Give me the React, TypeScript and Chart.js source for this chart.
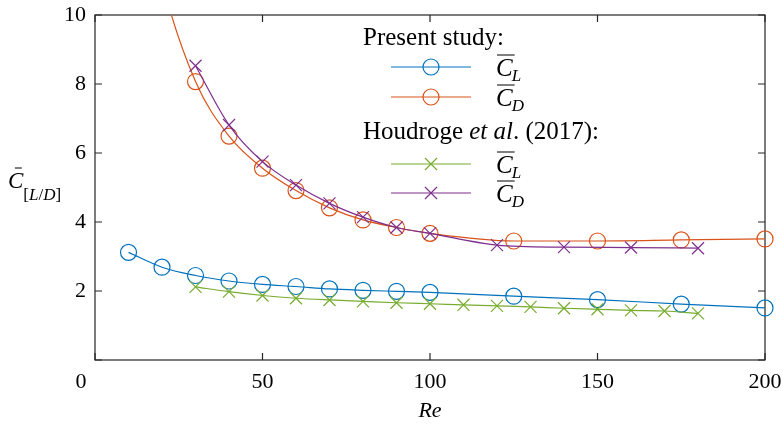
import { useEffect, useRef } from 'react';
import { Chart, registerables } from 'chart.js';

Chart.register(...registerables);

// Reynolds numbers and mean force coefficients
const presentRe = [10, 20, 30, 40, 50, 60, 70, 80, 90, 100, 125, 150, 175, 200];
const presentCL = [3.12, 2.69, 2.45, 2.29, 2.19, 2.13, 2.06, 2.02, 1.99, 1.96, 1.85, 1.75, 1.62, 1.51];
const presentCD = [16.0, 11.0, 8.07, 6.49, 5.56, 4.91, 4.41, 4.06, 3.84, 3.67, 3.45, 3.45, 3.48, 3.51];

const houdrogeReCL = [30, 40, 50, 60, 70, 80, 90, 100, 110, 120, 130, 140, 150, 160, 170, 180];
const houdrogeCL = [2.12, 1.98, 1.87, 1.79, 1.74, 1.7, 1.66, 1.63, 1.6, 1.57, 1.54, 1.5, 1.47, 1.44, 1.42, 1.35];
const houdrogeReCD = [30, 40, 50, 60, 70, 80, 90, 100, 120, 140, 160, 180];
const houdrogeCD = [8.53, 6.81, 5.75, 5.07, 4.54, 4.14, 3.84, 3.67, 3.33, 3.27, 3.26, 3.24];

const xTicks = [0, 50, 100, 150, 200];
const yTicks = [0, 2, 4, 6, 8, 10];

const legendGroups = ['Present study:', 'Houdroge|et al|. (2017):'];

const SERIF = "'Liberation Serif', 'Times New Roman', serif";
const BLUE = '#0072BD';
const ORANGE = '#D95319';
const GREEN = '#77AC30';
const PURPLE = '#7E2F8E';
const AXIS = '#262626';

const toPoints = (xs: number[], ys: number[]) => xs.map((x, i) => ({ x, y: ys[i] }));

function series(label: string, xs: number[], ys: number[], color: string, marker: string, order: number) {
  return {
    label,
    data: toPoints(xs, ys),
    borderColor: color,
    backgroundColor: 'rgba(0,0,0,0)',
    borderWidth: 1.2,
    pointStyle: marker,
    pointRadius: marker === 'circle' ? 8 : 8.5,
    pointBorderWidth: 1.2,
    pointBorderColor: color,
    pointBackgroundColor: 'rgba(0,0,0,0)',
    cubicInterpolationMode: 'monotone' as const,
    clip: { left: false, top: 0, right: false, bottom: false },
    order,
  };
}

function drawMarker(ctx: CanvasRenderingContext2D, kind: string, x: number, y: number) {
  ctx.beginPath();
  if (kind === 'circle') {
    ctx.arc(x, y, 8, 0, Math.PI * 2);
  } else {
    const d = 8.5 * Math.cos(Math.PI / 4);
    ctx.moveTo(x - d, y - d);
    ctx.lineTo(x + d, y + d);
    ctx.moveTo(x - d, y + d);
    ctx.lineTo(x + d, y - d);
  }
  ctx.stroke();
}

// C with an overline and an italic subscript
function drawCoeff(ctx: CanvasRenderingContext2D, sub: string, x: number, y: number) {
  ctx.font = `italic 25px ${SERIF}`;
  ctx.textBaseline = 'alphabetic';
  ctx.textAlign = 'left';
  ctx.fillText('C', x, y + 8.5);
  const w = ctx.measureText('C').width;
  ctx.beginPath();
  ctx.moveTo(x + 1, y - 12);
  ctx.lineTo(x + w + 2, y - 12);
  ctx.stroke();
  ctx.font = `italic 17px ${SERIF}`;
  ctx.fillText(sub, x + w - 1, y + 14);
}

const decorations = {
  id: 'decorations',
  beforeDatasetsDraw(chart: any) {
    const { ctx, chartArea: a, scales } = chart;
    ctx.save();
    ctx.strokeStyle = AXIS;
    ctx.lineWidth = 1.2;
    ctx.strokeRect(a.left, a.top, a.right - a.left, a.bottom - a.top);
    const t = 7;
    ctx.beginPath();
    for (const v of xTicks) {
      const px = scales.x.getPixelForValue(v);
      ctx.moveTo(px, a.bottom);
      ctx.lineTo(px, a.bottom - t);
      ctx.moveTo(px, a.top);
      ctx.lineTo(px, a.top + t);
    }
    for (const v of yTicks) {
      const py = scales.y.getPixelForValue(v);
      ctx.moveTo(a.left, py);
      ctx.lineTo(a.left + t, py);
      ctx.moveTo(a.right, py);
      ctx.lineTo(a.right - t, py);
    }
    ctx.stroke();
    ctx.restore();
  },
  afterDraw(chart: any) {
    const { ctx, chartArea: a } = chart;
    ctx.save();
    ctx.fillStyle = '#000';
    ctx.strokeStyle = '#000';
    ctx.lineWidth = 1;

    // shared origin label
    ctx.font = `22px ${SERIF}`;
    ctx.textAlign = 'center';
    ctx.textBaseline = 'middle';
    ctx.fillText('0', a.left - 14, a.bottom + 22);

    // x-axis title
    ctx.font = `italic 22px ${SERIF}`;
    ctx.fillText('Re', (a.left + a.right) / 2, a.bottom + 51);

    // y-axis title: C-bar with [L/D] subscript
    ctx.textAlign = 'left';
    ctx.textBaseline = 'alphabetic';
    ctx.font = `italic 23px ${SERIF}`;
    const cx = 8;
    const cy = 188;
    ctx.fillText('C', cx, cy);
    const cw = ctx.measureText('C').width;
    ctx.beginPath();
    ctx.moveTo(cx + cw * 0.45, cy - 20);
    ctx.lineTo(cx + cw * 0.9, cy - 20);
    ctx.stroke();
    let sx = cx + cw;
    const sy = cy + 12;
    const parts: [string, boolean][] = [['[', false], ['L', true], ['/', false], ['D', true], [']', false]];
    for (const [s, it] of parts) {
      ctx.font = `${it ? 'italic ' : ''}17px ${SERIF}`;
      ctx.fillText(s, sx, sy);
      sx += ctx.measureText(s).width;
    }

    // legend
    const datasets = chart.data.datasets;
    const headX = 363;
    const lineX0 = 391;
    const lineX1 = 471;
    const textX = 496;
    const headY = [38, 132];
    const rowY = [67, 97, 164, 193];
    ctx.textBaseline = 'middle';
    legendGroups.forEach((g, gi) => {
      let x = headX;
      g.split('|').forEach((s, si) => {
        ctx.font = `${si === 1 ? 'italic ' : ''}25px ${SERIF}`;
        ctx.fillText(s, x, headY[gi]);
        x += ctx.measureText(s).width;
        if (si === 0 && g.includes('|')) {
          x += ctx.measureText(' ').width;
        }
      });
    });
    datasets.forEach((ds: any, i: number) => {
      const y = rowY[i];
      ctx.strokeStyle = ds.borderColor;
      ctx.lineWidth = 1.2;
      ctx.beginPath();
      ctx.moveTo(lineX0, y);
      ctx.lineTo(lineX1, y);
      ctx.stroke();
      drawMarker(ctx, ds.pointStyle, (lineX0 + lineX1) / 2, y);
      ctx.strokeStyle = '#000';
      ctx.fillStyle = '#000';
      ctx.lineWidth = 1;
      drawCoeff(ctx, ds.label.slice(-1), textX, y);
    });
    ctx.restore();
  },
};

export default function App() {
  const ref = useRef<HTMLCanvasElement | null>(null);

  useEffect(() => {
    if (!ref.current) return;
    const tickFont = { family: SERIF, size: 22 };
    const chart = new Chart(ref.current, {
      type: 'line',
      data: {
        datasets: [
          series('Present C_L', presentRe, presentCL, BLUE, 'circle', 3),
          series('Present C_D', presentRe, presentCD, ORANGE, 'circle', 2),
          series('Houdroge C_L', houdrogeReCL, houdrogeCL, GREEN, 'crossRot', 1),
          series('Houdroge C_D', houdrogeReCD, houdrogeCD, PURPLE, 'crossRot', 0),
        ] as any,
      },
      options: {
        animation: false,
        responsive: false,
        maintainAspectRatio: false,
        layout: { padding: { left: 0, right: 18, top: 15, bottom: 0 } },
        plugins: { legend: { display: false }, tooltip: { enabled: false } },
        scales: {
          x: {
            type: 'linear',
            min: 0,
            max: 200,
            afterBuildTicks: (s: any) => {
              s.ticks = xTicks.map((v) => ({ value: v }));
            },
            afterFit: (s: any) => {
              s.height = 65;
              s.paddingLeft = 0;
              s.paddingRight = 0;
              s.paddingTop = 0;
              s.paddingBottom = 0;
            },
            ticks: {
              font: tickFont,
              color: '#000',
              padding: 9,
              maxRotation: 0,
              autoSkip: false,
              callback: (v: any) => (v === 0 ? '' : String(v)),
            },
            grid: { display: false, drawTicks: false },
            border: { display: false },
          },
          y: {
            type: 'linear',
            min: 0,
            max: 10,
            afterBuildTicks: (s: any) => {
              s.ticks = yTicks.map((v) => ({ value: v }));
            },
            afterFit: (s: any) => {
              s.width = 95;
              s.paddingLeft = 0;
              s.paddingRight = 0;
              s.paddingTop = 0;
              s.paddingBottom = 0;
            },
            ticks: {
              font: tickFont,
              color: '#000',
              padding: 9,
              autoSkip: false,
              callback: (v: any) => (v === 0 ? '' : String(v)),
            },
            grid: { display: false, drawTicks: false },
            border: { display: false },
          },
        },
      },
      plugins: [decorations],
    });
    return () => chart.destroy();
  }, []);

  return (
    <div style={{ position: 'absolute', left: 0, top: 0, width: 783, height: 425, background: '#fff' }}>
      <canvas ref={ref} width={783} height={425} />
    </div>
  );
}
